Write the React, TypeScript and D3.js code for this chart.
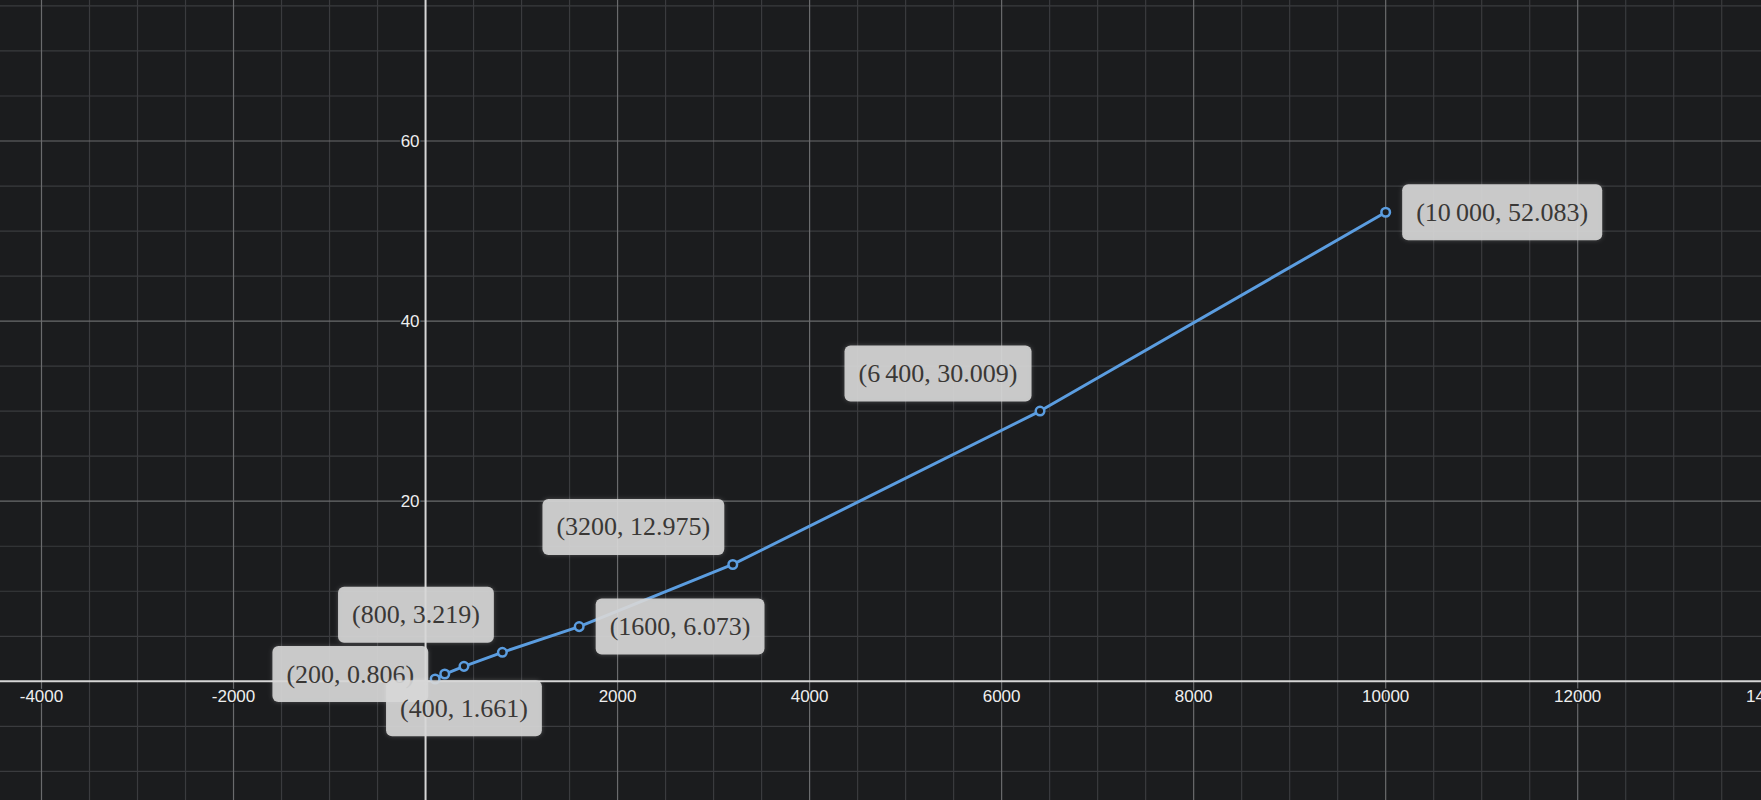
import React, { useEffect, useRef } from "react";
import * as d3 from "d3";

const xValues = [100, 200, 400, 800, 1600, 3200, 6400, 10000];
const yValues = [0.25, 0.806, 1.661, 3.219, 6.073, 12.975, 30.009, 52.083];
const pointLabels = [
  "",
  "(200, 0.806)",
  "(400, 1.661)",
  "(800, 3.219)",
  "(1600, 6.073)",
  "(3200, 12.975)",
  "(6\u2009400, 30.009)",
  "(10\u2009000, 52.083)",
];
const labelPlacements = ["none", "left", "below", "aboveLeft", "right", "aboveLeft", "aboveLeft", "right"];
const xTickValues = [-4000, -2000, 2000, 4000, 6000, 8000, 10000, 12000, 14000];
const yTickValues = [20, 40, 60];

const W = 1761;
const H = 800;
const BG = "#1b1c1e";

export default function App() {
  const ref = useRef<SVGSVGElement | null>(null);

  useEffect(() => {
    const svg = d3.select(ref.current);
    svg.selectAll("*").remove();

    const x = d3.scaleLinear().domain([-4000, 12000]).range([41.5, 1577.7]);
    const y = d3.scaleLinear().domain([0, 60]).range([681.3, 141]);
    const [x0, x1] = [x.invert(0), x.invert(W)];
    const [y1, y0] = [y.invert(0), y.invert(H)];

    svg.append("rect").attr("width", W).attr("height", H).attr("fill", BG);

    // minor grid
    const minorX = d3.range(Math.ceil(x0 / 500) * 500, x1, 500).filter((v) => v % 2000 !== 0);
    const minorY = d3.range(Math.ceil(y0 / 5) * 5, y1, 5).filter((v) => v % 20 !== 0);
    const g = svg.append("g");
    g.selectAll("line.mx").data(minorX).enter().append("line")
      .attr("x1", (d) => x(d)).attr("x2", (d) => x(d)).attr("y1", 0).attr("y2", H)
      .attr("stroke", "#3a3b3e").attr("stroke-width", 1.2);
    g.selectAll("line.my").data(minorY).enter().append("line")
      .attr("y1", (d) => y(d)).attr("y2", (d) => y(d)).attr("x1", 0).attr("x2", W)
      .attr("stroke", "#3a3b3e").attr("stroke-width", 1.2);

    // major grid
    const majorX = d3.range(Math.ceil(x0 / 2000) * 2000, x1, 2000).filter((v) => v !== 0);
    const majorY = d3.range(Math.ceil(y0 / 20) * 20, y1, 20).filter((v) => v !== 0);
    g.selectAll("line.Mx").data(majorX).enter().append("line")
      .attr("x1", (d) => x(d)).attr("x2", (d) => x(d)).attr("y1", 0).attr("y2", H)
      .attr("stroke", "#6a6b6d").attr("stroke-width", 1.2);
    g.selectAll("line.My").data(majorY).enter().append("line")
      .attr("y1", (d) => y(d)).attr("y2", (d) => y(d)).attr("x1", 0).attr("x2", W)
      .attr("stroke", "#6a6b6d").attr("stroke-width", 1.2);

    // axes
    svg.append("line").attr("x1", 0).attr("x2", W).attr("y1", y(0)).attr("y2", y(0))
      .attr("stroke", "#d6d6d6").attr("stroke-width", 2);
    svg.append("line").attr("x1", x(0)).attr("x2", x(0)).attr("y1", 0).attr("y2", H)
      .attr("stroke", "#d6d6d6").attr("stroke-width", 2);

    // tick labels
    const tickFont = "'Liberation Sans', Arimo, Arial, sans-serif";
    svg.append("g").selectAll("text").data(xTickValues).enter().append("text")
      .attr("x", (d) => x(d)).attr("y", y(0) + 21)
      .attr("text-anchor", "middle")
      .attr("font-family", tickFont).attr("font-size", 17)
      .attr("fill", "#eeeeee").attr("stroke", BG).attr("stroke-width", 3)
      .attr("paint-order", "stroke")
      .text((d) => String(d));
    svg.append("g").selectAll("text").data(yTickValues).enter().append("text")
      .attr("x", x(0) - 6).attr("y", (d) => y(d) + 6)
      .attr("text-anchor", "end")
      .attr("font-family", tickFont).attr("font-size", 17)
      .attr("fill", "#eeeeee").attr("stroke", BG).attr("stroke-width", 3)
      .attr("paint-order", "stroke")
      .text((d) => String(d));

    // line
    const pts = xValues.map((v, i) => [v, yValues[i]] as [number, number]);
    const line = d3.line<[number, number]>().x((d) => x(d[0])).y((d) => y(d[1]));
    const blue = "#5b9de0";
    svg.append("path").attr("d", line(pts) || "").attr("fill", "none")
      .attr("stroke", blue).attr("stroke-width", 3).attr("stroke-linejoin", "round");
    svg.append("g").selectAll("circle").data(pts).enter().append("circle")
      .attr("cx", (d) => x(d[0])).attr("cy", (d) => y(d[1])).attr("r", 4.3)
      .attr("fill", BG).attr("stroke", blue).attr("stroke-width", 2.5);

    // labels
    const defs = svg.append("defs");
    const f = defs.append("filter").attr("id", "glow").attr("x", "-20%").attr("y", "-40%")
      .attr("width", "140%").attr("height", "180%");
    f.append("feDropShadow").attr("dx", 0).attr("dy", 0).attr("stdDeviation", 2)
      .attr("flood-color", "#ffffff").attr("flood-opacity", 0.25);

    const lg = svg.append("g");
    pts.forEach((p, i) => {
      const place = labelPlacements[i];
      if (place === "none") return;
      const px = x(p[0]);
      const py = y(p[1]);
      const grp = lg.append("g");
      const rect = grp.append("rect");
      const t = grp.append("text")
        .attr("font-family", "'Liberation Serif', 'Times New Roman', serif")
        .attr("font-size", 26).attr("fill", "#3a3836")
        .text(pointLabels[i]);
      const tw = (t.node() as SVGTextElement).getComputedTextLength();
      const bw = tw + 28;
      const bh = 56;
      let bx = 0;
      let by = 0;
      if (place === "right") { bx = px + 16.5; by = py - bh / 2; }
      else if (place === "left") { bx = px - 16.5 - bw; by = py - bh / 2; }
      else if (place === "below") { bx = px - bw / 2; by = py + 14; }
      else if (place === "aboveLeft") { bx = px - 8.5 - bw; by = py - 9.5 - bh; }
      rect.attr("x", bx).attr("y", by).attr("width", bw).attr("height", bh).attr("rx", 6)
        .attr("fill", "#d6d6d6").attr("fill-opacity", 0.9).attr("filter", "url(#glow)");
      t.attr("x", bx + 14).attr("y", by + bh / 2 + 8.5);
    });
  }, []);

  return (
    <svg
      ref={ref}
      width={W}
      height={H}
      style={{ position: "absolute", left: 0, top: 0, display: "block" }}
    />
  );
}
